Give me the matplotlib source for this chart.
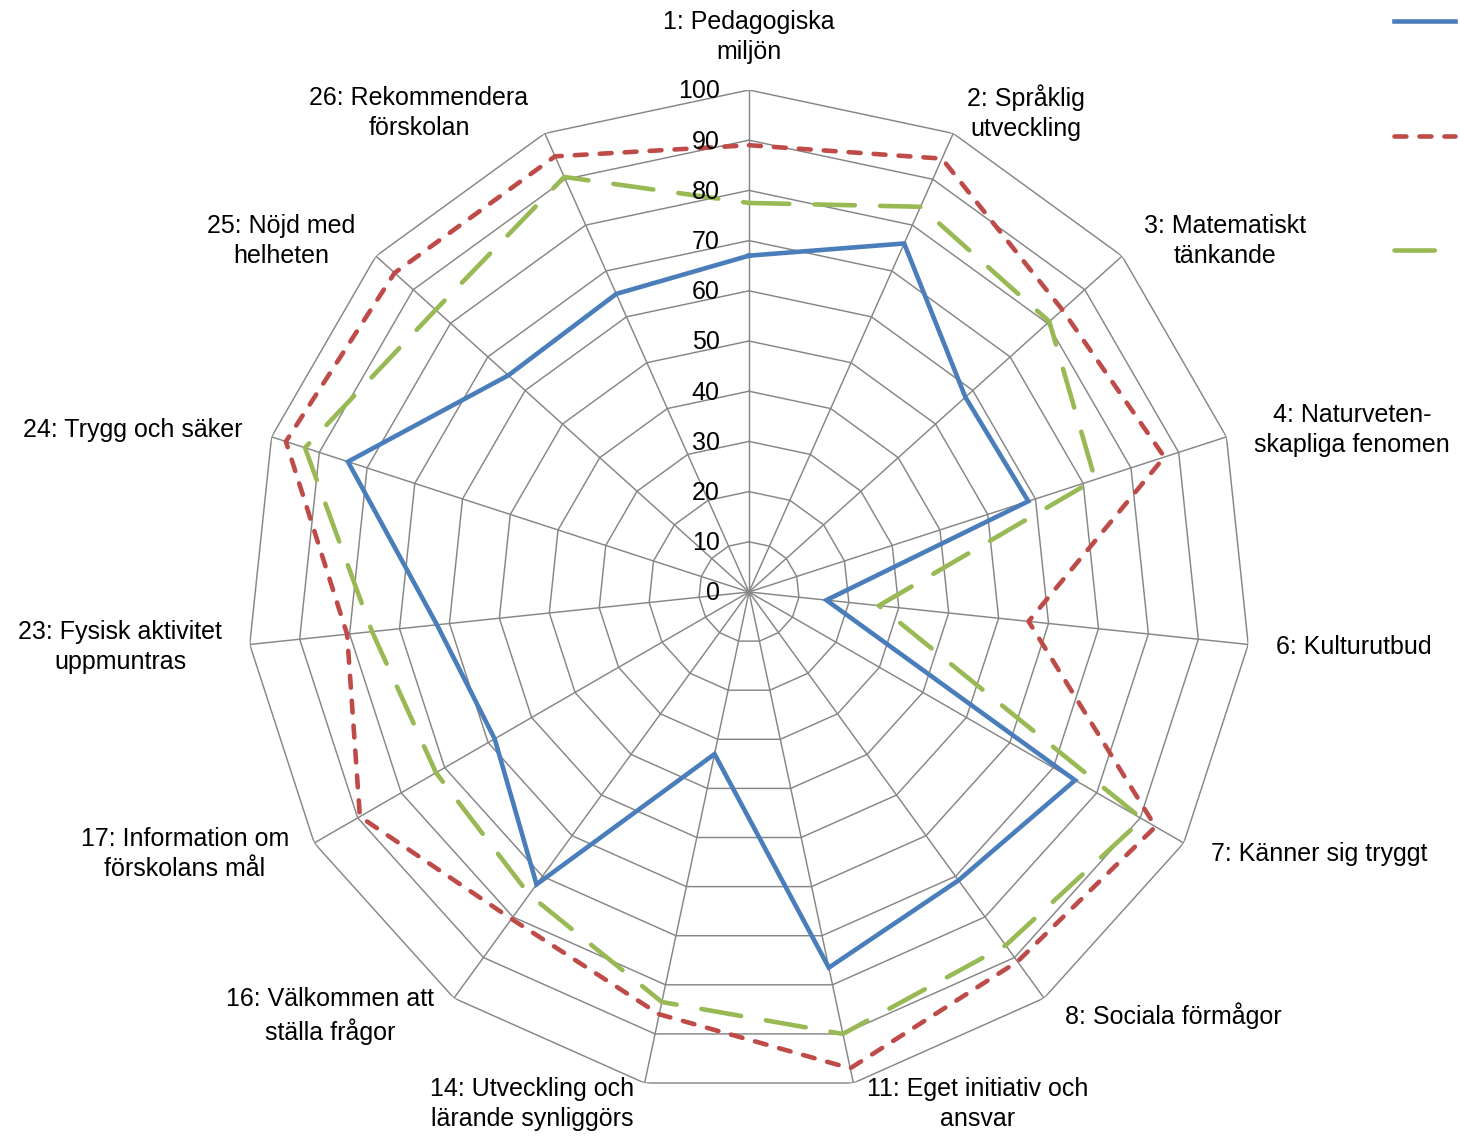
import numpy as np
import matplotlib
matplotlib.use("Agg")
import matplotlib.pyplot as plt

# ---------------- data ----------------
categories = [
    "1: Pedagogiska\nmiljön",
    "2: Språklig\nutveckling",
    "3: Matematiskt\ntänkande",
    "4: Naturveten-\nskapliga fenomen",
    "6: Kulturutbud",
    "7: Känner sig tryggt",
    "8: Sociala förmågor",
    "11: Eget initiativ och\nansvar",
    "14: Utveckling och\nlärande synliggörs",
    "16: Välkommen att\nställa frågor",
    "17: Information om\nförskolans mål",
    "23: Fysisk aktivitet\nuppmuntras",
    "24: Trygg och säker",
    "25: Nöjd med\nhelheten",
    "26: Rekommendera\nförskolan",
]
series_blue = [67, 76, 58, 58.5, 15.5, 75, 71, 76.5, 33, 72, 58.5, 62.5, 84, 64.5, 65]
series_red = [89, 94.5, 84, 87, 56, 93.5, 91, 97, 86, 80.5, 89.5, 80.5, 97, 95, 95]
series_green = [77.5, 84, 80.5, 72.5, 26, 90.5, 87, 90, 83.5, 74.5, 72, 75.5, 93, 84, 90.5]
series_labels = [" ", " ", " "]
radial_ticks = [0, 10, 20, 30, 40, 50, 60, 70, 80, 90, 100]

# ---------------- layout / style ----------------
W, H = 1460, 1136
# label centres in pixels (layout only)
label_pos = [
    (749, 37), (1026, 113), (1225, 241), (1352, 430), (1354, 647),
    (1319, 854), (1173, 1016), (978, 1104), (532, 1104), (330, 1016),
    (185, 854), (120, 647), (133, 430), (281, 241), (419, 113),
]
FONT = "Liberation Sans"
FS = 18
GRID = "#868686"
BLUE = "#4A7EBB"
RED = "#BE4B48"
GREEN = "#98B954"
LW = 3.3

plt.rcParams["font.family"] = [FONT, "DejaVu Sans"]

fig = plt.figure(figsize=(W / 100, H / 100), dpi=100)
cx, cy, rad = 749, 592, 502
ax = fig.add_axes([(cx - rad) / W, 1 - (cy + rad) / H, 2 * rad / W, 2 * rad / H],
                  projection="polar")
ax.set_theta_zero_location("N")
ax.set_theta_direction(-1)
ax.set_ylim(0, 100)
ax.grid(False)
ax.spines["polar"].set_visible(False)
ax.set_xticks([])
ax.set_yticks([])
ax.patch.set_alpha(0)

n = len(categories)
theta = np.linspace(0, 2 * np.pi, n, endpoint=False)
theta_c = np.append(theta, theta[0])

# polygon grid
for r in radial_ticks[1:]:
    ax.plot(theta_c, [r] * (n + 1), color=GRID, lw=1.05, zorder=1)
for t in theta:
    ax.plot([t, t], [0, 100], color=GRID, lw=1.05, zorder=1)

# radial labels
for r in radial_ticks:
    ax.annotate(str(r), xy=(0, r), xytext=(-21, -1), textcoords="offset points",
                ha="right", va="center", fontsize=FS, color="black", zorder=5)

def closed(v):
    return list(v) + [v[0]]

l1, = ax.plot(theta_c, closed(series_blue), color=BLUE, lw=LW, zorder=3,
              solid_joinstyle="miter")
l2, = ax.plot(theta_c, closed(series_red), color=RED, lw=LW, zorder=3,
              linestyle=(0, (2.6, 2.85)), dash_capstyle="round")
l3, = ax.plot(theta_c, closed(series_green), color=GREEN, lw=LW, zorder=3,
              linestyle=(0, (8.8, 5.5)), dash_capstyle="round")

# category labels
for lab, (x, y) in zip(categories, label_pos):
    fig.text(x / W, 1 - y / H, lab, ha="center", va="center",
             multialignment="center", fontsize=FS, linespacing=1.3)

# legend (series names are cut off at the right edge in the original)
fig.legend([l1, l2, l3], series_labels, loc="upper left",
           bbox_to_anchor=(1394 / W, 1 - 11 / H), frameon=False,
           fontsize=FS, handlelength=2.45, handletextpad=0.3,
           labelspacing=3.62, borderpad=0, borderaxespad=0)

fig.savefig("out.png", dpi=100)
